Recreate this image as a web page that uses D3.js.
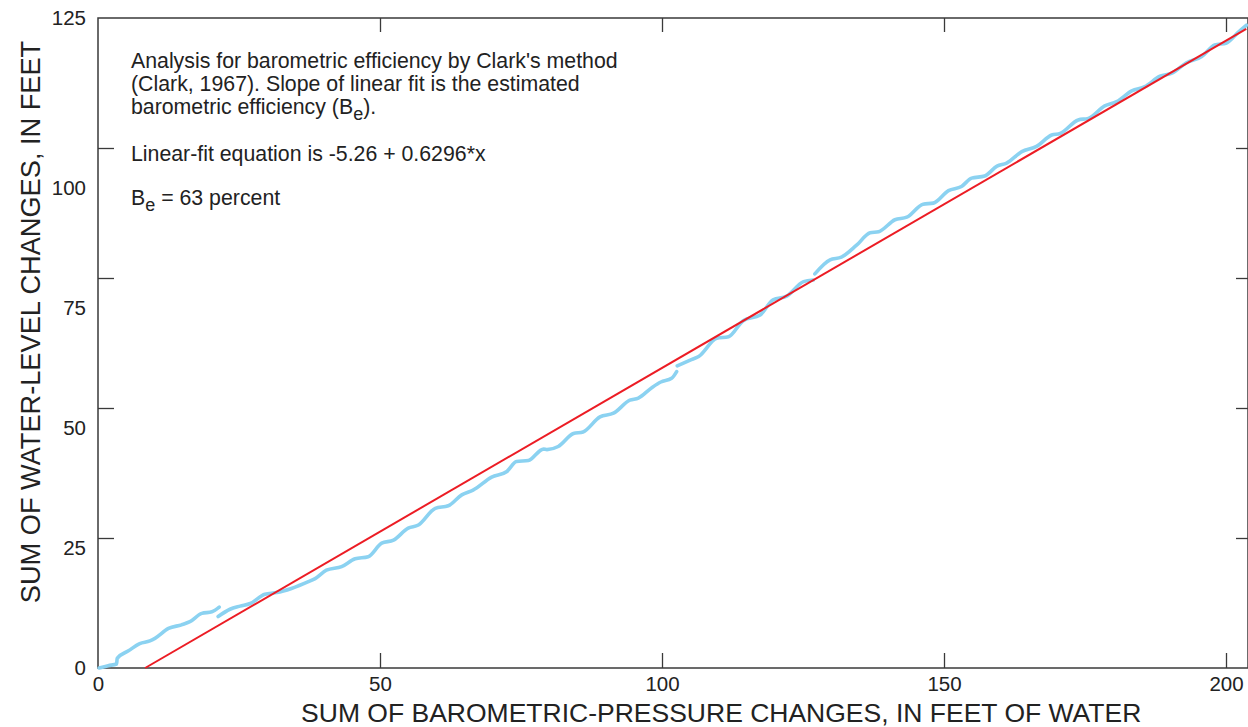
<!DOCTYPE html>
<html>
<head>
<meta charset="utf-8">
<script src="https://cdn.jsdelivr.net/npm/d3@7"></script>
<style>
  html, body { margin: 0; padding: 0; background: #fff; }
  svg { display: block; font-family: "Liberation Sans", Arial, Helvetica, sans-serif; }
</style>
</head>
<body>
<svg id="chart" width="1248" height="727"></svg>
<script>
// Cumulative sums: barometric-pressure change (x, ft of water) vs water-level change (y, ft).
// The record is broken into separate runs where data were missing.
const run1 = [[0.2,0.0],[1.8,0.45],[3.3,0.77],[3.4,1.86],[5.4,3.3],[7.4,4.7],[9.2,5.2],[10.1,5.7],
  [12.5,7.6],[14.8,8.3],[16.3,8.9],[18.4,10.5],[20.2,10.8],[21.5,11.7]];
const run2 = [[21.3,9.9],[23.4,11.3],[25.2,11.9],[27.0,12.4],[29.6,14.2],[31.7,14.5],[34.3,15.3],
  [37.3,16.6],[38.5,17.2],[40.5,18.8],[43.2,19.5],[45.6,21.0],[47.9,21.4],[50.3,24.0],[52.4,24.6],
  [55.0,26.9],[56.8,27.5],[59.8,30.7],[62.1,31.2],[64.5,33.3],[66.5,34.2],[69.8,36.7],[72.5,37.8],
  [74.2,39.7],[76.3,39.9],[79.0,42.1],[79.6,42.0],[81.6,42.6],[84.3,45.1],[86.0,45.4],[89.0,48.3],
  [91.4,49.0],[94.3,51.5],[95.8,51.9],[98.3,54.0],[99.8,55.0],[101.7,55.7],[102.6,57.0]];
const run3 = [[102.7,58.1],[105.0,59.2],[106.5,59.9],[109.7,63.4],[111.8,63.7],[114.4,66.8],
  [117.4,67.9],[119.7,70.8],[122.1,71.5],[125.1,74.3],[126.8,74.6]];
const run4 = [[127.1,75.8],[129.8,78.5],[131.8,79.0],[134.5,81.3],[136.9,83.7],[138.4,83.9],
  [141.3,86.2],[143.4,86.7],[146.3,89.2],[148.1,89.4],[150.8,91.8],[153.1,92.6],[154.9,94.2],
  [157.2,94.6],[159.4,96.5],[161.1,97.1],[163.8,99.3],[166.4,100.3],[169.1,102.5],[170.6,102.8],
  [173.8,105.4],[175.6,105.7],[178.5,108.1],[180.6,108.9],[183.3,111.0],[185.6,111.8],[188.3,113.8],
  [190.4,114.4],[193.0,116.4],[195.7,117.6],[198.0,119.8],[200.1,120.2],[202.2,122.3],[203.6,123.6]];
const runs = [run1, run2, run3, run4];

// Linear fit: y = intercept + slope * x
const fitIntercept = -5.26;
const fitSlope = 0.6296;

const xTicks = [0, 50, 100, 150, 200];
const yTicks = [0, 25, 50, 75, 100, 125];
const yLabels = ["0", "25", "50", "75", "100", "125"];

const notes = [
  "Analysis for barometric efficiency by Clark's method",
  "(Clark, 1967). Slope of linear fit is the estimated"
];
const xTitle = "SUM OF BAROMETRIC-PRESSURE CHANGES, IN FEET OF WATER";
const yTitle = "SUM OF WATER-LEVEL CHANGES, IN FEET";

const svg = d3.select("#chart");
const margin = { left: 98, top: 18 };
const W = 1150, H = 650;
const ink = "#3a3a3a";
const tickFont = 20.5;
const noteFont = 21.3;
const titleFont = 26.5;

const x = d3.scaleLinear().domain([0, 203.9]).range([0, W]);
const y = d3.scaleLinear().domain([0, 125]).range([H, 0]);
// The value labels on the left sit on their own, tighter spacing below the top label.
const yLab = d3.scaleLinear().domain([0, 100, 125]).range([H, 170, 0]);

const g = svg.append("g").attr("transform", `translate(${margin.left},${margin.top})`);

// Frame
g.append("rect").attr("x", 0).attr("y", 0).attr("width", W).attr("height", H)
  .attr("fill", "none").attr("stroke", ink).attr("stroke-width", 1.5);

function styleAxis(sel) {
  sel.attr("font-size", tickFont).attr("font-family", "Liberation Sans, Arial, sans-serif");
  sel.select(".domain").remove();
  sel.selectAll(".tick line").attr("stroke", ink).attr("stroke-width", 1.3);
  sel.selectAll(".tick text").attr("fill", "#222");
}

// Bottom axis with inward ticks and labels
g.append("g").attr("transform", `translate(0,${H})`)
  .call(d3.axisBottom(x).tickValues(xTicks).tickSizeInner(-15).tickSizeOuter(0).tickPadding(8)
    .tickFormat(d3.format("d")))
  .call(styleAxis)
  .call(s => s.selectAll(".tick line").filter(d => d === 0).remove());

// Top axis ticks
g.append("g")
  .call(d3.axisTop(x).tickValues(xTicks.filter(d => d > 0 && d < 203)).tickSizeInner(-14).tickSizeOuter(0).tickFormat(""))
  .call(styleAxis);

// Left axis: inward ticks
g.append("g")
  .call(d3.axisLeft(y).tickValues(yTicks.filter(d => d > 0 && d < 125)).tickSizeInner(-16).tickSizeOuter(0).tickFormat(""))
  .call(styleAxis);
// Left axis: value labels
g.append("g")
  .call(d3.axisLeft(yLab).tickValues(yTicks).tickSize(0).tickPadding(12)
    .tickFormat((d, i) => yLabels[i]))
  .call(styleAxis);

// Right axis ticks
g.append("g").attr("transform", `translate(${W},0)`)
  .call(d3.axisRight(y).tickValues(yTicks.filter(d => d > 0 && d < 125)).tickSizeInner(-12).tickSizeOuter(0).tickFormat(""))
  .call(styleAxis);

// Cumulative water-level series
const line = d3.line().x(d => x(d[0])).y(d => y(d[1])).curve(d3.curveMonotoneX);
g.append("g").selectAll("path").data(runs).join("path")
  .attr("d", line)
  .attr("fill", "none").attr("stroke", "#8bd2f1").attr("stroke-width", 3.6)
  .attr("stroke-linecap", "round").attr("stroke-linejoin", "round");

// Linear fit, from where it crosses zero to the end of the record
const xStart = -fitIntercept / fitSlope;
const xEnd = run4[run4.length - 1][0];
g.append("line")
  .attr("x1", x(xStart)).attr("y1", y(fitIntercept + fitSlope * xStart))
  .attr("x2", x(xEnd)).attr("y2", y(fitIntercept + fitSlope * xEnd))
  .attr("stroke", "#ec1c24").attr("stroke-width", 2);

// Annotation
const tx = 131;
const ann = svg.append("g").attr("font-size", noteFont).attr("fill", "#222");
notes.forEach((t, i) => {
  ann.append("text").attr("x", tx).attr("y", 61 + i * 23).attr("dy", "0.35em").text(t);
});
const l3 = ann.append("text").attr("x", tx).attr("y", 107).attr("dy", "0.35em");
l3.append("tspan").text("barometric efficiency (B");
l3.append("tspan").attr("dy", 6).attr("font-size", 18).text("e");
l3.append("tspan").attr("dy", -6).text(").");

ann.append("text").attr("x", tx).attr("y", 154).attr("dy", "0.35em")
  .text(`Linear-fit equation is ${fitIntercept} + ${fitSlope}*x`);

const l5 = ann.append("text").attr("x", tx).attr("y", 198).attr("dy", "0.35em");
l5.append("tspan").text("B");
l5.append("tspan").attr("dy", 6).attr("font-size", 18).text("e");
l5.append("tspan").attr("dy", -6).text(` = ${Math.round(fitSlope * 100)} percent`);

// Axis titles
svg.append("text").attr("x", margin.left + x(110.5)).attr("y", 713).attr("dy", "0.35em")
  .attr("text-anchor", "middle").attr("font-size", titleFont).attr("fill", "#222").text(xTitle);
svg.append("text").attr("transform", `translate(30,${322}) rotate(-90)`).attr("dy", "0.35em")
  .attr("text-anchor", "middle").attr("font-size", 27.2).attr("fill", "#222").text(yTitle);
</script>
</body>
</html>
